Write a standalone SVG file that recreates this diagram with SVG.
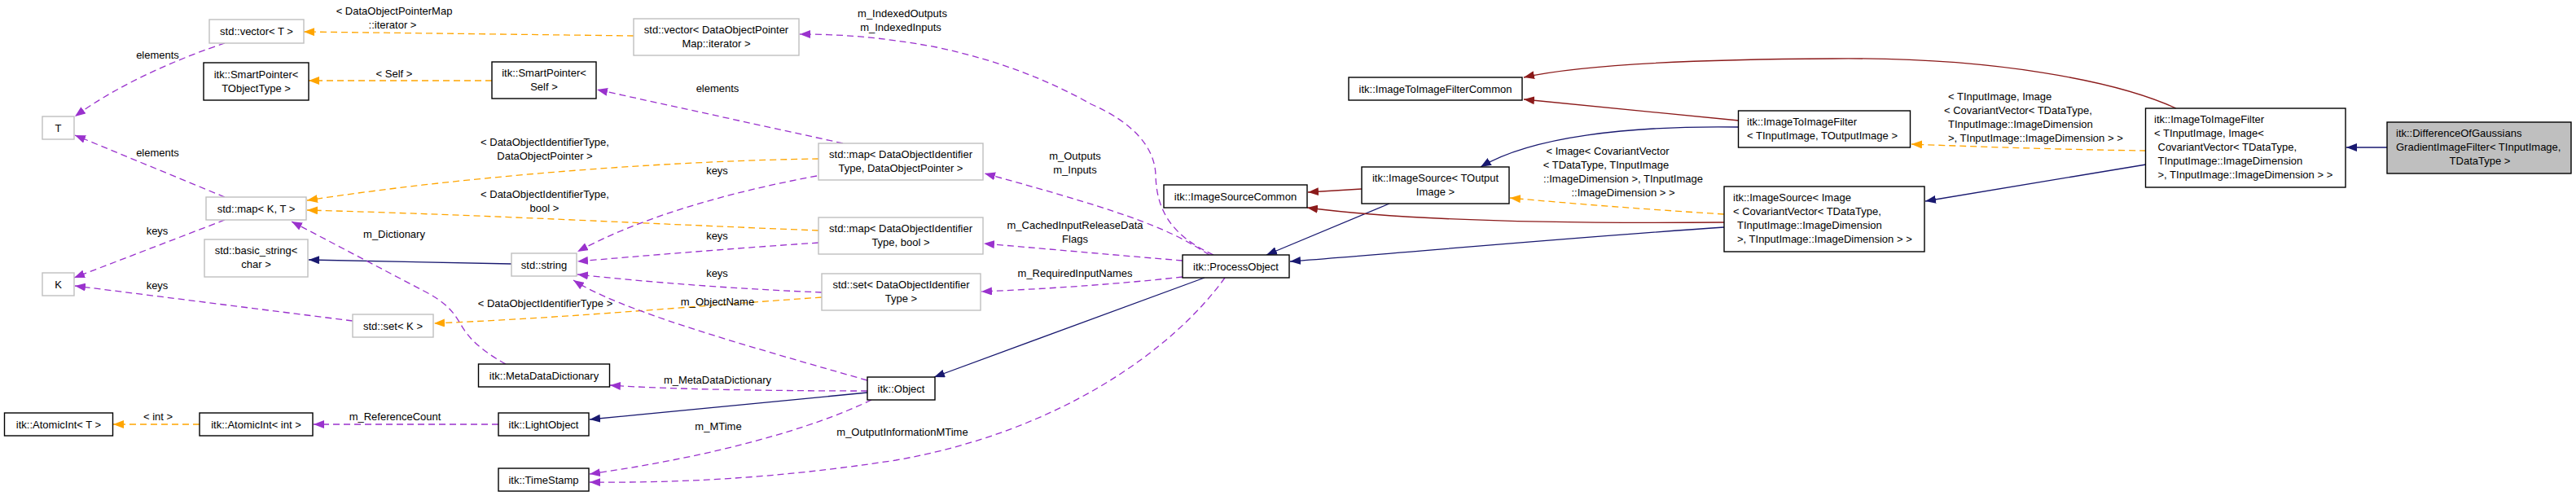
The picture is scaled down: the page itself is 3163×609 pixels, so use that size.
<svg xmlns="http://www.w3.org/2000/svg" width="3163" height="609" viewBox="0 0 3163 609">
<style>
text{font-family:"Liberation Sans",Arial,Helvetica,sans-serif;font-size:13px;fill:#000}
.m{text-anchor:middle}
.s{text-anchor:start}
.nb{fill:#fff;stroke:#000;stroke-width:1.4}
.ng{fill:#fff;stroke:#bfbfbf;stroke-width:1.4}
.nf{fill:#bfbfbf;stroke:#000;stroke-width:1.4}
.e{fill:none;stroke-width:1.3}
.u{stroke:#9a32cd;stroke-dasharray:8,5}
.o{stroke:#ffa500;stroke-dasharray:8,5}
.b{stroke:#191970}
.r{stroke:#8b1a1a}
</style>
<defs>
<marker id="aU" markerUnits="userSpaceOnUse" markerWidth="13" markerHeight="10" refX="13" refY="5" orient="auto" viewBox="0 0 13 10"><path d="M0,0L13,5L0,10z" fill="#9a32cd"/></marker>
<marker id="aO" markerUnits="userSpaceOnUse" markerWidth="13" markerHeight="10" refX="13" refY="5" orient="auto" viewBox="0 0 13 10"><path d="M0,0L13,5L0,10z" fill="#ffa500"/></marker>
<marker id="aB" markerUnits="userSpaceOnUse" markerWidth="13" markerHeight="10" refX="13" refY="5" orient="auto" viewBox="0 0 13 10"><path d="M0,0L13,5L0,10z" fill="#191970"/></marker>
<marker id="aR" markerUnits="userSpaceOnUse" markerWidth="13" markerHeight="10" refX="13" refY="5" orient="auto" viewBox="0 0 13 10"><path d="M0,0L13,5L0,10z" fill="#8b1a1a"/></marker>
</defs>
<rect width="3163" height="609" fill="#fff"/>
<g id="connectors">
<g><path class="e u" marker-end="url(#aU)" d="M276,53 C230,68 150,100 92,143"/><text class="m" x="193.5" y="72">elements</text></g>
<g><path class="e u" marker-end="url(#aU)" d="M276,242 L92,166"/><text class="m" x="193.5" y="192">elements</text></g>
<g><path class="e u" marker-end="url(#aU)" d="M276,270 L91,341"/><text class="m" x="193" y="288">keys</text></g>
<g><path class="e u" marker-end="url(#aU)" d="M433,394 L92,351"/><text class="m" x="193" y="355">keys</text></g>
<g><path class="e o" marker-end="url(#aO)" d="M778,44 L373,39"/><text class="m" x="484" y="17.5">&lt; DataObjectPointerMap</text><text class="m" x="482" y="34.5">::iterator &gt;</text></g>
<g><path class="e o" marker-end="url(#aO)" d="M604,99 L379,99"/><text class="m" x="484" y="95">&lt; Self &gt;</text></g>
<g><path class="e o" marker-end="url(#aO)" d="M1005,195 C850,197 600,212 377,246"/><text class="m" x="669" y="179">&lt; DataObjectIdentifierType,</text><text class="m" x="669" y="196">DataObjectPointer &gt;</text></g>
<g><path class="e o" marker-end="url(#aO)" d="M1005,283 C800,275 600,264 377,258"/><text class="m" x="669" y="243">&lt; DataObjectIdentifierType,</text><text class="m" x="668.5" y="260">bool &gt;</text></g>
<g><path class="e u" marker-end="url(#aU)" d="M1035,176 L733,110"/><text class="m" x="881" y="113">elements</text></g>
<g><path class="e u" marker-end="url(#aU)" d="M1003,216 C900,235 790,265 709,309"/><text class="m" x="880.5" y="214">keys</text></g>
<g><path class="e u" marker-end="url(#aU)" d="M1005,298 C900,305 790,314 709,321"/><text class="m" x="880.5" y="294">keys</text></g>
<g><path class="e u" marker-end="url(#aU)" d="M1009,359 C910,355 800,347 709,337"/><text class="m" x="880.5" y="340">keys</text></g>
<g><path class="e o" marker-end="url(#aO)" d="M1009,365 C850,376 700,390 533,397"/><text class="m" x="669.5" y="377">&lt; DataObjectIdentifierType &gt;</text></g>
<g><path class="e b" marker-end="url(#aB)" d="M628,324 L379,319"/></g>
<g><path class="e u" marker-end="url(#aU)" d="M621,447 C590,430 575,415 565,397 C555,380 545,370 520,357 L358,272"/><text class="m" x="484" y="292">m_Dictionary</text></g>
<g><path class="e o" marker-end="url(#aO)" d="M245,521 L139,521"/><text class="m" x="194" y="516">&lt; int &gt;</text></g>
<g><path class="e u" marker-end="url(#aU)" d="M612,521 L385,521"/><text class="m" x="485" y="516">m_ReferenceCount</text></g>
<g><path class="e u" marker-end="url(#aU)" d="M1065,467 C900,420 760,380 704,344"/><text class="m" x="881" y="375">m_ObjectName</text></g>
<g><path class="e u" marker-end="url(#aU)" d="M1065,480 C950,480 820,478 749,473"/><text class="m" x="881" y="471">m_MetaDataDictionary</text></g>
<g><path class="e b" marker-end="url(#aB)" d="M1065,482 L724,515"/></g>
<g><path class="e u" marker-end="url(#aU)" d="M1070,491 C1000,525 880,560 724,582"/><text class="m" x="882" y="528">m_MTime</text></g>
<g><path class="e u" marker-end="url(#aU)" d="M1504,341 C1440,430 1300,530 1100,565 C950,588 830,593 724,592"/><text class="m" x="1108" y="535">m_OutputInformationMTime</text></g>
<g><path class="e b" marker-end="url(#aB)" d="M1479,341 L1147,463"/></g>
<g><path class="e u" marker-end="url(#aU)" d="M1452,340 C1380,348 1300,354 1205,358"/><text class="m" x="1320" y="340">m_RequiredInputNames</text></g>
<g><path class="e u" marker-end="url(#aU)" d="M1452,320 C1380,314 1300,307 1208,299"/><text class="m" x="1320" y="281">m_CachedInputReleaseData</text><text class="m" x="1320" y="298">Flags</text></g>
<g><path class="e u" marker-end="url(#aU)" d="M1485,313 C1440,284 1400,265 1209,213"/><text class="m" x="1320" y="196">m_Outputs</text><text class="m" x="1320" y="213">m_Inputs</text></g>
<g><path class="e u" marker-end="url(#aU)" d="M1490,313 C1440,290 1420,260 1419,215 C1418,180 1390,150 1340,128 C1290,100 1230,75 1150,58 C1080,45 1030,42 982,42"/><text class="m" x="1108" y="21">m_IndexedOutputs</text><text class="m" x="1106" y="38">m_IndexedInputs</text></g>
<g><path class="e b" marker-end="url(#aB)" d="M1706,250 L1555,313"/></g>
<g><path class="e r" marker-end="url(#aR)" d="M1672,232 L1606,236"/></g>
<g><path class="e r" marker-end="url(#aR)" d="M2135,148 L1871,122"/></g>
<g><path class="e b" marker-end="url(#aB)" d="M2135,156 C2000,154 1880,168 1818,205"/></g>
<g><path class="e r" marker-end="url(#aR)" d="M2672,133 C2600,100 2450,70 2250,72 C2050,73 1930,82 1871,95"/></g>
<g><path class="e o" marker-end="url(#aO)" d="M2635,185 C2550,184 2450,181 2347,177"/><text class="s" x="2392" y="123">&lt; TInputImage, Image</text><text class="s" x="2387" y="140">&lt; CovariantVector&lt; TDataType,</text><text class="s" x="2392" y="157">TInputImage::ImageDimension</text><text class="s" x="2392" y="174">&gt;, TInputImage::ImageDimension &gt; &gt;</text></g>
<g><path class="e b" marker-end="url(#aB)" d="M2635,202 L2364,247"/></g>
<g><path class="e b" marker-end="url(#aB)" d="M2931,181 L2881,181"/></g>
<g><path class="e r" marker-end="url(#aR)" d="M2117,273 C1900,275 1720,270 1605,255"/></g>
<g><path class="e o" marker-end="url(#aO)" d="M2117,263 C2020,257 1930,250 1854,243"/><text class="m" x="1974" y="189.5">&lt; Image&lt; CovariantVector</text><text class="m" x="1972" y="206.5">&lt; TDataType, TInputImage</text><text class="m" x="1993" y="223.5">::ImageDimension &gt;, TInputImage</text><text class="m" x="1993" y="240.5">::ImageDimension &gt; &gt;</text></g>
<g><path class="e b" marker-end="url(#aB)" d="M2117,279 C1950,290 1750,308 1584,321"/></g>
</g>
<g id="n_vector_T"><rect class="ng" x="257" y="24" width="116" height="29"/><text class="m" x="315" y="43">std::vector&lt; T &gt;</text></g>
<g id="n_smartpointer_T"><rect class="nb" x="250" y="77" width="129" height="46"/><text class="m" x="314.5" y="95.5">itk::SmartPointer&lt;</text><text class="m" x="314.5" y="112.5">TObjectType &gt;</text></g>
<g id="n_T"><rect class="ng" x="52" y="143" width="39" height="28"/><text class="m" x="71.5" y="162">T</text></g>
<g id="n_map_KT"><rect class="ng" x="253" y="242" width="123" height="28"/><text class="m" x="314.5" y="261">std::map&lt; K, T &gt;</text></g>
<g id="n_basic_string"><rect class="ng" x="251" y="294" width="127" height="46"/><text class="m" x="314.5" y="312">std::basic_string&lt;</text><text class="m" x="314.5" y="329">char &gt;</text></g>
<g id="n_K"><rect class="ng" x="52" y="335" width="39" height="28"/><text class="m" x="71.5" y="354">K</text></g>
<g id="n_set_K"><rect class="ng" x="433" y="386" width="99" height="28"/><text class="m" x="482.5" y="404.5">std::set&lt; K &gt;</text></g>
<g id="n_atomicint_T"><rect class="nb" x="5.5" y="507" width="133" height="28"/><text class="m" x="72" y="526">itk::AtomicInt&lt; T &gt;</text></g>
<g id="n_atomicint_int"><rect class="nb" x="245" y="507" width="139" height="28"/><text class="m" x="314.5" y="526">itk::AtomicInt&lt; int &gt;</text></g>
<g id="n_vector_iter"><rect class="ng" x="778" y="23" width="203" height="45"/><text class="m" x="879.5" y="40.5">std::vector&lt; DataObjectPointer</text><text class="m" x="879.5" y="57.5">Map::iterator &gt;</text></g>
<g id="n_smartpointer_self"><rect class="nb" x="604" y="76" width="128" height="45"/><text class="m" x="668" y="94">itk::SmartPointer&lt;</text><text class="m" x="668" y="111">Self &gt;</text></g>
<g id="n_map_dop"><rect class="ng" x="1005" y="176" width="202" height="45"/><text class="m" x="1106" y="193.5">std::map&lt; DataObjectIdentifier</text><text class="m" x="1106" y="210.5">Type, DataObjectPointer &gt;</text></g>
<g id="n_map_bool"><rect class="ng" x="1005" y="267" width="202" height="45"/><text class="m" x="1106" y="284.5">std::map&lt; DataObjectIdentifier</text><text class="m" x="1106" y="301.5">Type, bool &gt;</text></g>
<g id="n_string"><rect class="ng" x="628" y="311" width="80" height="28"/><text class="m" x="668" y="330">std::string</text></g>
<g id="n_set_doit"><rect class="ng" x="1009" y="336" width="195" height="45"/><text class="m" x="1106.5" y="353.5">std::set&lt; DataObjectIdentifier</text><text class="m" x="1106.5" y="370.5">Type &gt;</text></g>
<g id="n_metadatadictionary"><rect class="nb" x="587.5" y="447" width="161" height="28"/><text class="m" x="668" y="466">itk::MetaDataDictionary</text></g>
<g id="n_lightobject"><rect class="nb" x="612" y="507" width="111" height="28"/><text class="m" x="667.5" y="526">itk::LightObject</text></g>
<g id="n_timestamp"><rect class="nb" x="612" y="575" width="111" height="28"/><text class="m" x="667.5" y="594">itk::TimeStamp</text></g>
<g id="n_object"><rect class="nb" x="1065" y="463" width="83" height="28"/><text class="m" x="1106.5" y="482">itk::Object</text></g>
<g id="n_processobject"><rect class="nb" x="1452" y="313" width="131" height="28"/><text class="m" x="1517.5" y="331.5">itk::ProcessObject</text></g>
<g id="n_imagesourcecommon"><rect class="nb" x="1429" y="227" width="176" height="28"/><text class="m" x="1517" y="246">itk::ImageSourceCommon</text></g>
<g id="n_imagetoimagefiltercommon"><rect class="nb" x="1656" y="95" width="213" height="28"/><text class="m" x="1762.5" y="114">itk::ImageToImageFilterCommon</text></g>
<g id="n_imagesource_tout"><rect class="nb" x="1672" y="205" width="181" height="45"/><text class="m" x="1762.5" y="222.5">itk::ImageSource&lt; TOutput</text><text class="m" x="1762.5" y="239.5">Image &gt;</text></g>
<g id="n_imagetoimagefilter_tin_tout"><rect class="nb" x="2134.5" y="136" width="211" height="45"/><text class="s" x="2145" y="153.5">itk::ImageToImageFilter</text><text class="s" x="2145" y="170.5">&lt; TInputImage, TOutputImage &gt;</text></g>
<g id="n_imagesource_image"><rect class="nb" x="2117" y="229" width="246" height="80"/><text class="s" x="2128" y="247">itk::ImageSource&lt; Image</text><text class="s" x="2128" y="264">&lt; CovariantVector&lt; TDataType,</text><text class="s" x="2133" y="281">TInputImage::ImageDimension</text><text class="s" x="2133" y="298">&gt;, TInputImage::ImageDimension &gt; &gt;</text></g>
<g id="n_imagetoimagefilter_image"><rect class="nb" x="2634.5" y="133" width="245.5" height="97"/><text class="s" x="2645" y="151">itk::ImageToImageFilter</text><text class="s" x="2645" y="168">&lt; TInputImage, Image&lt;</text><text class="s" x="2649.5" y="185">CovariantVector&lt; TDataType,</text><text class="s" x="2649.5" y="202">TInputImage::ImageDimension</text><text class="s" x="2649.5" y="219">&gt;, TInputImage::ImageDimension &gt; &gt;</text></g>
<g id="n_dog"><rect class="nf" x="2931" y="150" width="226" height="63"/><text class="s" x="2942" y="168">itk::DifferenceOfGaussians</text><text class="s" x="2942" y="185">GradientImageFilter&lt; TInputImage,</text><text class="m" x="3045" y="202">TDataType &gt;</text></g>
</svg>
